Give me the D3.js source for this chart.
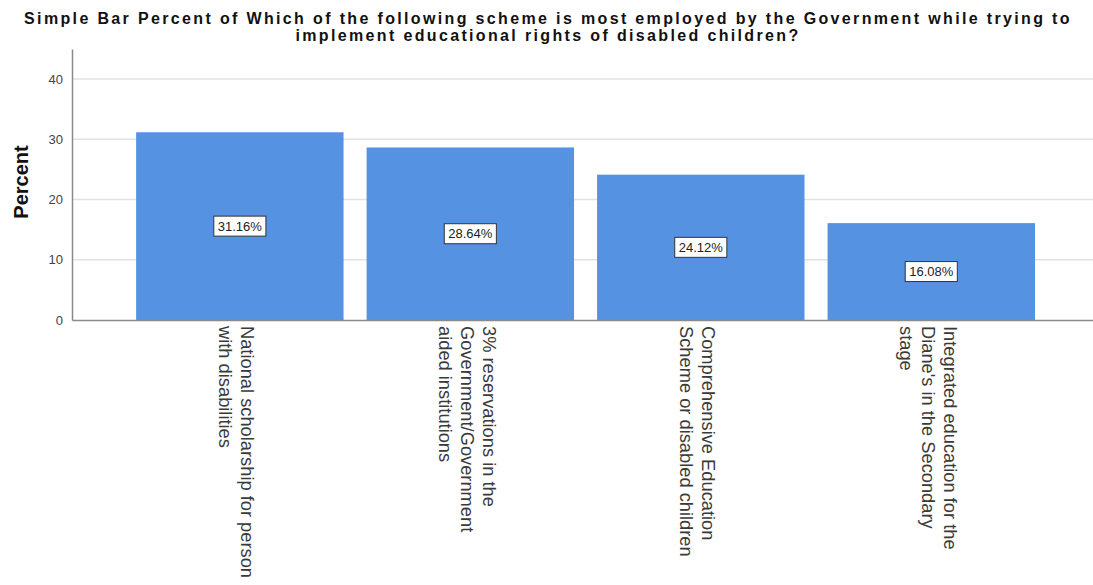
<!DOCTYPE html>
<html>
<head>
<meta charset="utf-8">
<script src="https://cdn.jsdelivr.net/npm/d3@7"></script>
<style>
  html, body { margin: 0; padding: 0; background: #fff; }
  svg { display: block; font-family: "Liberation Sans", Arial, sans-serif; }
</style>
</head>
<body>
<svg id="chart" width="1093" height="585"></svg>
<script>
// Chart data
const categories = [
  ["National scholarship for person", "with disabilities"],
  ["3% reservations in the", "Government/Government", "aided institutions"],
  ["Comprehensive Education", "Scheme or disabled children"],
  ["Integrated education for the", "Diane's in the Secondary", "stage"]
];
const percentValues = [31.16, 28.64, 24.12, 16.08];
const yTicks = [0, 10, 20, 30, 40];
const titleLines = [
  "Simple Bar Percent of Which of the following scheme is most employed by the Government while trying to",
  "implement educational rights of disabled children?"
];
const yAxisTitle = "Percent";

const W = 1093, H = 585;
const plot = { left: 72, right: 1093, bottom: 320 };

const svg = d3.select("#chart");

const y = d3.scaleLinear().domain([0, 45]).range([plot.bottom, plot.bottom - 45 * 6.025]);
const keys = categories.map((c, i) => i);
const x = d3.scaleBand()
  .domain(keys)
  .range([plot.left, plot.right])
  .paddingInner(0.1)
  .paddingOuter(0.265)
  .align(0.525);

// Gridlines
svg.append("g")
  .selectAll("line")
  .data(yTicks.filter(d => d > 0))
  .join("line")
  .attr("x1", plot.left).attr("x2", plot.right)
  .attr("y1", d => y(d)).attr("y2", d => y(d))
  .attr("stroke", "#e2e2e2")
  .attr("stroke-width", 1.5);

// Bars
svg.append("g")
  .selectAll("rect")
  .data(percentValues)
  .join("rect")
  .attr("x", (d, i) => x(i))
  .attr("y", d => y(d))
  .attr("width", x.bandwidth())
  .attr("height", d => y(0) - y(d))
  .attr("fill", "#5592e1");

// Axes
const yAxis = d3.axisLeft(y).tickValues(yTicks).tickSize(0).tickPadding(9);
const gy = svg.append("g").attr("transform", `translate(${plot.left},0)`).call(yAxis);
gy.select(".domain").attr("stroke", "#8a8a8a").attr("stroke-width", 1.5);
gy.selectAll("text").attr("fill", "#444").attr("font-size", 13)
  .attr("font-family", "'Liberation Sans', Arial, sans-serif");

const xAxis = d3.axisBottom(x).tickSize(0).tickFormat("");
const gx = svg.append("g").attr("transform", `translate(0,${plot.bottom})`).call(xAxis);
gx.select(".domain").attr("stroke", "#8a8a8a").attr("stroke-width", 1.5);

// Category labels, rotated to read downward
const lineStep = 22;
const catG = svg.append("g")
  .selectAll("g")
  .data(categories)
  .join("g")
  .attr("transform", (d, i) => `translate(${x(i) + x.bandwidth() / 2},326) rotate(90)`);
catG.each(function(lines) {
  const n = lines.length;
  d3.select(this).selectAll("text")
    .data(lines)
    .join("text")
    .attr("x", 0)
    .attr("y", (t, j) => 3 - ((n - 1) / 2 - j) * lineStep)
    .attr("dominant-baseline", "central")
    .attr("font-size", 18.3)
    .attr("fill", "#3a3a3a")
    .text(t => t);
});

// Value labels in boxes, centred in each bar
const valG = svg.append("g")
  .selectAll("g")
  .data(percentValues)
  .join("g")
  .attr("transform", (d, i) => `translate(${x(i) + x.bandwidth() / 2},${y(d / 2)})`);
valG.append("text")
  .attr("text-anchor", "middle")
  .attr("dominant-baseline", "central")
  .attr("font-size", 13)
  .attr("fill", "#222")
  .text(d => d.toFixed(2) + "%");
valG.each(function() {
  const g = d3.select(this);
  const w = g.select("text").node().getComputedTextLength();
  g.insert("rect", "text")
    .attr("x", -w / 2 - 4)
    .attr("y", -10)
    .attr("width", w + 8)
    .attr("height", 20)
    .attr("fill", "#fff")
    .attr("stroke", "#333")
    .attr("stroke-width", 1);
});

// Title, two lines, letter-spaced
svg.append("g")
  .selectAll("text")
  .data(titleLines)
  .join("text")
  .attr("x", 548)
  .attr("y", (d, i) => 24 + i * 17)
  .attr("text-anchor", "middle")
  .attr("font-size", 16)
  .attr("font-weight", "bold")
  .attr("letter-spacing", 2.35)
  .attr("fill", "#111")
  .text(d => d);

// Y axis title
svg.append("text")
  .attr("transform", "translate(28,182) rotate(-90)")
  .attr("text-anchor", "middle")
  .attr("font-size", 20)
  .attr("font-weight", "bold")
  .attr("fill", "#111")
  .text(yAxisTitle);
</script>
</body>
</html>
